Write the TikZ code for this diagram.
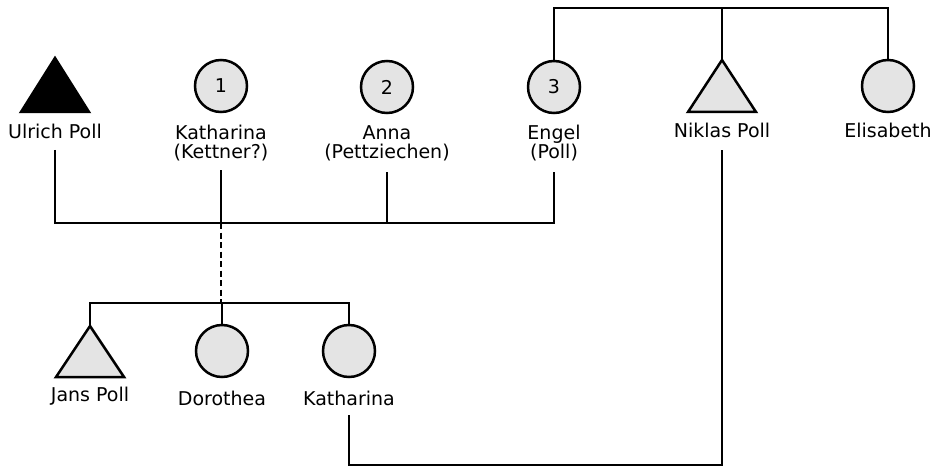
\documentclass[tikz,border=0pt]{standalone}
\usepackage{fontspec}
\setmainfont{DejaVu Sans}
\usetikzlibrary{calc}
\definecolor{pfill}{HTML}{E4E4E4}
\tikzset{
  ln/.style={line width=2.5pt, line join=miter},
  tri/.style={ln, draw=black},
  fem/.style={ln, draw=black, circle, fill=pfill, minimum size=52pt, inner sep=0pt, font=\fontsize{19}{20}\selectfont},
  lbl/.style={anchor=base, inner sep=0pt, align=center, font=\fontsize{19}{20}\selectfont},
  dsh/.style={ln, dash pattern=on 6pt off 3.5pt}
}
\begin{document}
\begin{tikzpicture}[x=1pt,y=-1pt]
\useasboundingbox (0,0) rectangle (937,468);
% top generation
\coordinate (ulrich) at (55,58);
\draw[tri,fill=black] (ulrich) -- ++(34,54) -- ++(-68,0) -- cycle;
\node[lbl] (lulrich) at (55,139) {Ulrich Poll};
\node[fem] (kath1) at (221,86) {1};
\node[lbl] (lkath1) at (221,159) {Katharina\\(Kettner?)};
\node[fem] (anna) at (387,87) {2};
\node[lbl] (lanna) at (387,159) {Anna\\(Pettziechen)};
\node[fem] (engel) at (554,87) {3};
\node[lbl] (lengel) at (554,159) {Engel\\(Poll)};
\coordinate (niklas) at (722,60);
\draw[tri,fill=pfill] (niklas) -- ++(34,52) -- ++(-68,0) -- cycle;
\node[lbl] (lniklas) at (722,138) {Niklas Poll};
\node[fem] (elis) at (888,86) {};
\node[lbl] (lelis) at (888,138) {Elisabeth};
% sibling line of Engel, Niklas, Elisabeth
\coordinate (top) at (722,8);
\draw[ln] (engel.north) |- (top) -| (elis.north);
\draw[ln] (top) -- (niklas);
% marriages
\coordinate (m1) at (221,223);
\coordinate (m2) at (387,223);
\draw[ln] ($(lulrich.base)+(0,11)$) |- (m1) -- (m2) -| ($(lengel.base)+(0,13)$);
\draw[ln] ($(lkath1.base)+(0,11)$) -- (m1);
\draw[ln] ($(lanna.base)+(0,13)$) -- (m2);
% children
\coordinate (c) at (221,303);
\draw[dsh] (m1) -- (c);
\coordinate (jans) at (90,326);
\draw[tri,fill=pfill] (jans) -- ++(34,51) -- ++(-68,0) -- cycle;
\node[lbl] (ljans) at (90,401) {Jans Poll};
\node[fem] (doro) at (222,351) {};
\node[lbl] (ldoro) at (222,405) {Dorothea};
\node[fem] (kath2) at (349,351) {};
\node[lbl] (lkath2) at (349,405) {Katharina};
\draw[ln] (jans) |- (c) -| (kath2.north);
\draw[ln] (doro.north) -- (doro.north |- c);
% Katharina x Niklas
\coordinate (m3) at (722,465);
\draw[ln] ($(lkath2.base)+(0,10)$) |- (m3) -- ($(lniklas.base)+(0,12)$);
\end{tikzpicture}
\end{document}
